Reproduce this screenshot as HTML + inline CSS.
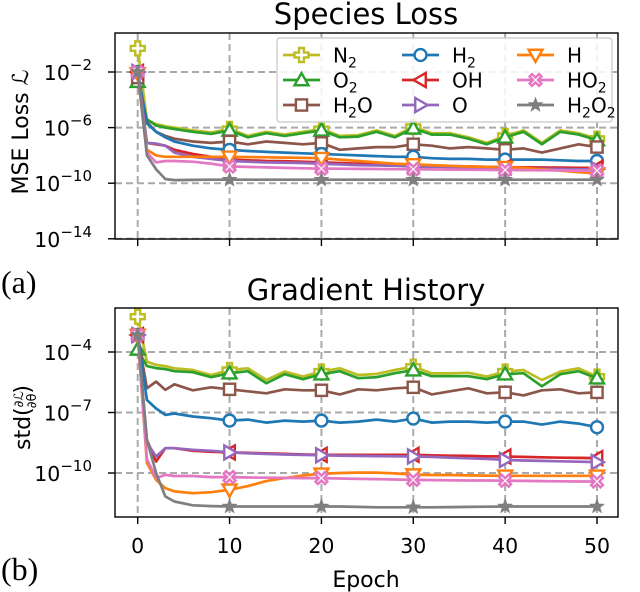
<!DOCTYPE html>
<html><head><meta charset="utf-8"><style>
html,body{margin:0;padding:0;background:#fff}
svg{display:block}
text{font-family:"DejaVu Sans","Liberation Sans",sans-serif;fill:#000}
text.serif{font-family:"Liberation Serif","DejaVu Serif",serif}
</style></head><body>
<svg id="chart" width="640" height="592" viewBox="0 0 640 592" xmlns="http://www.w3.org/2000/svg"></svg>
<script>
// ---- data ----
const epochs = [0,1,2,3,4,6,8,10,12,14,16,18,20,22,24,26,28,30,32,34,36,38,40,42,44,46,48,50];
const speciesNames = ['N2','O2','H2O','H2','OH','O','H','HO2','H2O2'];
// top plot: log10 MSE loss
const lossN2  = [-0.3,-5.45,-5.75,-5.9,-6.0,-6.2,-6.35,-6.1,-6.6,-6.3,-6.5,-6.3,-6.1,-6.6,-6.55,-6.2,-6.6,-5.95,-6.4,-6.4,-6.7,-7.1,-6.6,-6.2,-7.1,-6.2,-6.4,-6.8];
const lossO2  = [-2.7,-5.4,-5.85,-6.0,-6.1,-6.3,-6.45,-6.2,-6.7,-6.4,-6.6,-6.4,-6.2,-6.7,-6.65,-6.3,-6.7,-6.05,-6.5,-6.5,-6.8,-7.2,-6.7,-6.3,-7.2,-6.3,-6.5,-6.9];
const lossH2O = [-2.4,-5.6,-6.3,-6.6,-6.8,-7.0,-7.1,-7.0,-7.2,-7.0,-7.1,-7.2,-7.1,-7.6,-7.5,-7.4,-7.4,-7.2,-7.3,-7.5,-7.4,-7.5,-7.6,-7.5,-7.8,-7.5,-7.2,-7.4];
const lossH2  = [-2.0,-5.7,-6.3,-6.7,-7.0,-7.3,-7.5,-7.6,-7.68,-7.75,-7.8,-7.85,-7.9,-7.95,-8.0,-8.05,-8.1,-8.1,-8.2,-8.25,-8.25,-8.3,-8.3,-8.3,-8.3,-8.35,-8.4,-8.4];
const lossOH  = [-2.0,-7.1,-7.2,-7.3,-7.6,-7.9,-8.1,-8.3,-8.35,-8.4,-8.42,-8.45,-8.5,-8.55,-8.6,-8.65,-8.7,-8.75,-8.77,-8.78,-8.8,-8.82,-8.85,-8.86,-8.87,-8.88,-8.89,-8.9];
const lossO   = [-2.0,-7.1,-7.15,-7.3,-7.8,-8.1,-8.25,-8.4,-8.45,-8.5,-8.52,-8.55,-8.6,-8.65,-8.7,-8.72,-8.75,-8.8,-8.82,-8.85,-8.88,-8.9,-8.95,-8.96,-8.97,-8.98,-9.0,-9.0];
const lossH   = [-2.1,-7.6,-8.0,-8.1,-8.1,-8.1,-8.1,-8.1,-8.12,-8.14,-8.16,-8.18,-8.2,-8.3,-8.4,-8.5,-8.6,-8.65,-8.7,-8.75,-8.8,-8.82,-8.85,-8.9,-9.0,-9.1,-9.2,-9.3];
const lossHO2 = [-2.0,-7.8,-8.5,-8.4,-8.4,-8.45,-8.6,-8.8,-8.83,-8.86,-8.9,-8.93,-8.95,-8.96,-8.97,-8.98,-8.99,-9.0,-9.01,-9.02,-9.03,-9.04,-9.05,-9.06,-9.07,-9.08,-9.09,-9.1];
const lossH2O2= [-2.0,-8.0,-9.0,-9.7,-9.78,-9.76,-9.75,-9.75,-9.75,-9.75,-9.75,-9.75,-9.75,-9.75,-9.75,-9.75,-9.75,-9.75,-9.75,-9.75,-9.75,-9.75,-9.75,-9.75,-9.75,-9.75,-9.75,-9.75];
// bottom plot: log10 gradient std
const gradN2  = [-2.25,-4.48,-4.64,-4.7,-4.81,-4.89,-5.14,-4.89,-4.81,-5.39,-4.97,-5.22,-4.97,-4.81,-5.14,-5.09,-4.89,-4.73,-5.06,-5.06,-5.03,-5.22,-4.97,-4.89,-5.39,-4.97,-4.81,-5.22];
const gradO2  = [-3.87,-4.7,-4.8,-4.85,-4.95,-5.0,-5.25,-5.05,-4.95,-5.55,-5.1,-5.35,-5.1,-4.95,-5.3,-5.25,-5.05,-4.9,-5.2,-5.2,-5.2,-5.35,-5.1,-5.05,-5.7,-5.1,-4.95,-5.3];
const gradH2O = [-3.16,-5.8,-5.47,-5.88,-5.6,-5.9,-5.75,-5.85,-5.95,-6.05,-5.85,-5.9,-5.9,-6.1,-5.85,-5.9,-5.8,-5.75,-6.1,-5.95,-5.8,-6.05,-6.0,-6.15,-5.9,-5.85,-6.05,-6.0];
const gradH2  = [-3.16,-6.38,-6.8,-7.12,-7.05,-7.2,-7.28,-7.4,-7.35,-7.5,-7.4,-7.45,-7.4,-7.5,-7.45,-7.35,-7.45,-7.3,-7.5,-7.45,-7.45,-7.5,-7.45,-7.45,-7.6,-7.45,-7.55,-7.73];
const gradOH  = [-3.16,-8.36,-9.43,-8.77,-8.77,-8.9,-8.95,-8.98,-9.0,-9.02,-9.05,-9.08,-9.1,-9.1,-9.1,-9.1,-9.1,-9.1,-9.12,-9.14,-9.15,-9.17,-9.18,-9.2,-9.22,-9.24,-9.25,-9.26];
const gradO   = [-3.16,-8.5,-9.18,-8.77,-8.77,-8.85,-8.9,-8.98,-9.02,-9.05,-9.08,-9.1,-9.12,-9.14,-9.15,-9.16,-9.17,-9.18,-9.2,-9.24,-9.27,-9.3,-9.35,-9.38,-9.4,-9.42,-9.44,-9.46];
const gradH   = [-3.16,-9.5,-10.34,-10.75,-10.91,-11.0,-10.95,-10.83,-10.65,-10.4,-10.25,-10.12,-10.04,-10.0,-9.98,-9.98,-10.02,-10.08,-10.1,-10.1,-10.12,-10.13,-10.14,-10.14,-10.14,-10.14,-10.14,-10.14];
const gradHO2 = [-3.16,-9.3,-10.25,-10.09,-10.15,-10.15,-10.2,-10.2,-10.22,-10.23,-10.24,-10.25,-10.25,-10.27,-10.29,-10.3,-10.32,-10.34,-10.35,-10.36,-10.37,-10.37,-10.38,-10.39,-10.4,-10.41,-10.42,-10.42];
const gradH2O2= [-3.16,-8.36,-10.0,-11.16,-11.41,-11.6,-11.64,-11.66,-11.66,-11.66,-11.66,-11.66,-11.66,-11.66,-11.68,-11.7,-11.7,-11.7,-11.7,-11.69,-11.68,-11.67,-11.66,-11.66,-11.66,-11.66,-11.66,-11.66];
const xTicks = [0,10,20,30,40,50];
const topYTicks = [-2,-6,-10,-14];
const botYTicks = [-4,-7,-10];
// ---- styles ----
const colors = ['#bcbd22','#2ca02c','#8c564b','#1f77b4','#d62728','#9467bd','#ff7f0e','#e377c2','#7f7f7f'];
const markers = ['plus','tri-up','square','circle','tri-left','tri-right','tri-down','x','star'];

const svg = document.getElementById('chart');
const NS = 'http://www.w3.org/2000/svg';
function mk(tag, attrs, parent){const e=document.createElementNS(NS,tag);for(const k in attrs)e.setAttribute(k,attrs[k]);(parent||svg).appendChild(e);return e;}

const L=115, R=618;
const xs = v => 137.7 + v*(597-137.7)/50;
const topAx = {top:33, bottom:239, y: v => 72 + (-2 - v)*13.9, name:'loss'};
const botAx = {top:308, bottom:517, y: v => 352 + (-4 - v)*20.17, name:'gradient'};
const MS = 7;

function markerPath(type, cx, cy, s){
  const r=s;
  switch(type){
    case 'circle': return {tag:'circle', a:{cx:cx,cy:cy,r:r*0.85}};
    case 'square': return {tag:'rect', a:{x:cx-r*0.8,y:cy-r*0.8,width:r*1.6,height:r*1.6}};
    case 'tri-up': return {tag:'polygon', a:{points:`${cx},${cy-r} ${cx-r},${cy+r*0.75} ${cx+r},${cy+r*0.75}`}};
    case 'tri-down': return {tag:'polygon', a:{points:`${cx},${cy+r} ${cx-r},${cy-r*0.75} ${cx+r},${cy-r*0.75}`}};
    case 'tri-left': return {tag:'polygon', a:{points:`${cx-r},${cy} ${cx+r*0.75},${cy-r} ${cx+r*0.75},${cy+r}`}};
    case 'tri-right': return {tag:'polygon', a:{points:`${cx+r},${cy} ${cx-r*0.75},${cy-r} ${cx-r*0.75},${cy+r}`}};
    case 'plus': { const a=r*0.35; return {tag:'polygon', a:{points:`${cx-a},${cy-r} ${cx+a},${cy-r} ${cx+a},${cy-a} ${cx+r},${cy-a} ${cx+r},${cy+a} ${cx+a},${cy+a} ${cx+a},${cy+r} ${cx-a},${cy+r} ${cx-a},${cy+a} ${cx-r},${cy+a} ${cx-r},${cy-a} ${cx-a},${cy-a}`}}; }
    case 'x': { const g=r*0.35, o=r*0.85; const pts=[[0,-g],[o-g,-o],[o,-o+g],[g,0],[o,o-g],[o-g,o],[0,g],[-o+g,o],[-o,o-g],[-g,0],[-o,-o+g],[-o+g,-o]].map(p=>`${cx+p[0]},${cy+p[1]}`).join(' '); return {tag:'polygon',a:{points:pts}}; }
    case 'star': { let p=[]; for(let i=0;i<10;i++){const ang=-Math.PI/2+i*Math.PI/5; const rr=i%2?r*0.42:r; p.push(`${cx+rr*Math.cos(ang)},${cy+rr*Math.sin(ang)}`);} return {tag:'polygon',a:{points:p.join(' ')}}; }
  }
}
function drawMarker(g, type, color, cx, cy, s){
  const m = markerPath(type,cx,cy,s);
  const isStar = type==='star';
  const e = mk(m.tag, Object.assign({fill: isStar?color:'#fff', stroke:color, 'stroke-width': isStar?1:2.4}, m.a), g);
  
  
}

function drawAxes(ax, series, yTicks, showXLabels){
  const fr = mk('g',{});
  
  
  xTicks.forEach(t=>{
    const l=mk('line',{x1:xs(t),x2:xs(t),y1:ax.top,y2:ax.bottom,stroke:'#aaaaaa','stroke-width':2,'stroke-dasharray':'7,4'},fr);
     
  });
  yTicks.forEach(t=>{
    const y=ax.y(t);
    const l=mk('line',{x1:L,x2:R,y1:y,y2:y,stroke:'#aaaaaa','stroke-width':2,'stroke-dasharray':'7,4'},fr);
     
  });
  const cid='clip-'+ax.name;
  const cp=mk('clipPath',{id:cid},fr); mk('rect',{x:L,y:ax.top,width:R-L,height:ax.bottom-ax.top},cp);
  const dg=mk('g',{'clip-path':`url(#${cid})`},fr);
  
  
  series.forEach((vals,i)=>{
    const pts = epochs.map((e,k)=>`${xs(e).toFixed(1)},${ax.y(vals[k]).toFixed(1)}`).join(' ');
    const pl = mk('polyline',{points:pts,fill:'none',stroke:colors[i],'stroke-width':2.7,'stroke-linejoin':'round'},dg);
    
    
    epochs.forEach((e,k)=>{ if(e%10===0) drawMarker(dg, markers[i], colors[i], xs(e), ax.y(vals[k]), MS); });
  });
  const fb=mk('rect',{x:L,y:ax.top,width:R-L,height:ax.bottom-ax.top,fill:'none',stroke:'#000','stroke-width':1.4},fr);
   
  xTicks.forEach(t=>{
    mk('line',{x1:xs(t),x2:xs(t),y1:ax.bottom,y2:ax.bottom+7,stroke:'#000','stroke-width':1.4},fr);
    if(showXLabels){
      const tx=mk('text',{x:xs(t),y:ax.bottom+36,'text-anchor':'middle','font-size':20.5},fr);
      tx.textContent=t;
       
    }
  });
  yTicks.forEach(t=>{
    const y=ax.y(t);
    mk('line',{x1:L-7,x2:L,y1:y,y2:y,stroke:'#000','stroke-width':1.4},fr);
    const tx=mk('text',{x:92,y:y+8,'text-anchor':'end','font-size':20.5},fr);
     
    tx.textContent='10';
    const sup=mk('tspan',{dy:-10,'font-size':15},tx); sup.textContent='\u2212'+Math.abs(t);
  });
}

const topSeries=[lossN2,lossO2,lossH2O,lossH2,lossOH,lossO,lossH,lossHO2,lossH2O2];
const botSeries=[gradN2,gradO2,gradH2O,gradH2,gradOH,gradO,gradH,gradHO2,gradH2O2];
drawAxes(topAx, topSeries, topYTicks, false);
drawAxes(botAx, botSeries, botYTicks, true);

// legend
const lg=mk('g',{});
 
mk('rect',{x:277,y:38,width:335,height:84,rx:3,fill:'#fff','fill-opacity':0.85,stroke:'#d0d0d0','stroke-width':1.4},lg);
const colX=[283,402,517], rowY=[55,80,105];
const legendParts=[['N','2'],['O','2'],['H','2','O'],['H','2'],['OH'],['O'],['H'],['HO','2'],['H','2','O','2']];
[[0,1,2],[3,4,5],[6,7,8]].forEach((col,c)=>{
  col.forEach((si,r)=>{
    const g=mk('g',{},lg);
    
    
    const x=colX[c], y=rowY[r];
    mk('line',{x1:x,x2:x+37,y1:y,y2:y,stroke:colors[si],'stroke-width':2.7},g);
    drawMarker(g, markers[si], colors[si], x+18.5, y, MS);
    const t=mk('text',{x:x+50,y:y+7.5,'font-size':20},g);
    legendParts[si].forEach((p,k)=>{
      if(k%2===0){const s=mk('tspan',k?{dy:-5}:{},t); s.textContent=p;}
      else {const s=mk('tspan',{dy:5,'font-size':14},t); s.textContent=p;}
    });
  });
});

function txt(x,y,s,size,name,extra){const t=mk('text',Object.assign({x:x,y:y,'font-size':size},extra||{}));t.textContent=s;return t;}
txt(366,24,'Species Loss',29,'top-title',{'text-anchor':'middle'});
txt(366,300,'Gradient History',29,'bottom-title',{'text-anchor':'middle'});
txt(366,587,'Epoch',22,'x-axis-title',{'text-anchor':'middle'});
txt(1,293,'(a)',32,'panel-label-a',{'class':'serif'});
txt(1,580,'(b)',32,'panel-label-b',{'class':'serif'});
txt(0,0,'MSE Loss \u2112',22,'top-y-axis-title',{'text-anchor':'middle',transform:'translate(28,132) rotate(-90)'});
const yl2=mk('text',{'font-size':22,transform:'translate(30,450) rotate(-90)'});
 
yl2.appendChild(document.createTextNode('std('));
const fr1=mk('tspan',{'font-size':13,dy:-7},yl2); fr1.textContent='\u2202\u2112';
const fr2=mk('tspan',{'font-size':13,dx:-17,dy:13},yl2); fr2.textContent='\u2202\u03b8';
const fr3=mk('tspan',{dy:-6},yl2); fr3.textContent=')';
</script>
</body></html>
